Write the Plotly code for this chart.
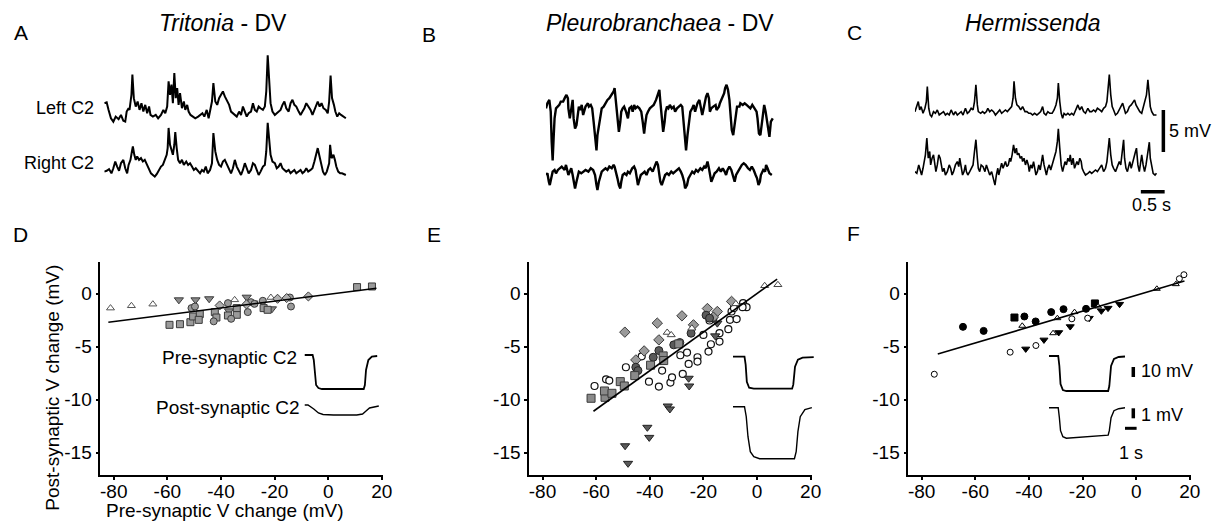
import plotly.graph_objects as go

W, H = 1222, 525
OFF = 8                      # page body margin of the written html
WF, HF = W - OFF, H - OFF    # figure size so that it fills the window
FONT = "Liberation Sans, Arial, sans-serif"

# ======================= DATA =======================
# Spontaneous activity traces: (time s, voltage mV relative to trace baseline)
a_left = [(0.00,1.8),(0.05,1.9),(0.09,1.0),(0.14,0.0),(0.19,-0.4),(0.24,0.2),(0.30,-0.1),(0.35,0.4),(0.40,-0.3),(0.44,-0.4),
          (0.47,0.8),(0.51,1.2),(0.53,1.0),(0.57,2.8),(0.59,5.2),(0.62,2.4),(0.66,1.4),(0.70,2.0),(0.74,1.0),(0.78,1.8),
          (0.82,0.8),(0.86,1.6),(0.90,0.6),(0.94,1.4),(0.97,0.4),(1.02,0.2),(1.08,0.4),(1.13,0.0),(1.19,0.4),(1.24,1.0),
          (1.28,0.6),(1.32,1.4),(1.35,4.4),(1.38,2.8),(1.41,4.0),(1.44,1.8),(1.47,5.4),(1.50,2.4),(1.53,3.6),(1.56,1.6),
          (1.59,3.0),(1.63,1.2),(1.67,2.0),(1.70,1.0),(1.74,1.6),(1.77,0.8),(1.81,0.4),(1.86,0.2),(1.91,0.0),(1.97,0.2),
          (2.01,0.4),(2.06,0.6),(2.10,0.2),(2.15,1.0),(2.19,0.0),(2.22,0.8),(2.26,2.0),(2.29,4.2),(2.33,2.0),(2.37,1.6),
          (2.41,2.4),(2.45,2.8),(2.49,3.2),(2.53,2.6),(2.58,2.0),(2.62,1.6),(2.66,0.8),(2.70,0.6),(2.74,0.4),(2.78,0.2),
          (2.83,0.8),(2.87,0.4),(2.91,1.4),(2.95,0.8),(2.99,0.2),(3.03,0.6),(3.08,0.8),(3.12,1.8),(3.16,1.0),(3.20,0.8),
          (3.24,1.4),(3.28,1.2),(3.33,1.0),(3.37,1.4),(3.40,3.2),(3.43,7.5),(3.46,4.8),(3.49,1.8),(3.53,0.8),(3.58,0.4),
          (3.62,0.6),(3.66,0.8),(3.70,1.0),(3.74,1.6),(3.78,2.0),(3.82,1.2),(3.87,0.8),(3.91,1.8),(3.95,2.2),(3.99,1.6),
          (4.03,1.4),(4.08,0.8),(4.12,0.4),(4.16,0.8),(4.20,1.2),(4.24,1.8),(4.28,1.4),(4.33,1.0),(4.37,0.4),(4.41,1.0),
          (4.45,1.6),(4.48,2.0),(4.52,1.4),(4.56,1.8),(4.60,1.2),(4.65,1.0),(4.69,0.6),(4.72,2.0),(4.75,5.1),(4.78,2.4),
          (4.82,1.6),(4.85,0.8),(4.89,0.2),(4.93,0.6),(4.97,0.4),(5.01,0.2),(5.07,0.0)]
a_right = [(0.00,0.2),(0.05,0.3),(0.10,0.5),(0.15,0.0),(0.19,0.6),(0.23,1.4),(0.27,0.8),(0.31,0.3),(0.35,1.2),(0.40,1.6),
           (0.44,0.6),(0.48,0.0),(0.51,1.0),(0.55,1.6),(0.58,2.6),(0.60,3.2),(0.63,2.2),(0.66,1.6),(0.69,2.0),(0.73,1.6),
           (0.77,1.8),(0.81,1.4),(0.85,1.6),(0.90,1.0),(0.94,0.4),(0.98,0.0),(1.02,-0.2),(1.06,-0.4),(1.10,-0.1),(1.15,0.4),
           (1.19,0.8),(1.23,1.0),(1.27,1.6),(1.31,2.2),(1.33,3.0),(1.35,5.4),(1.38,3.4),(1.41,2.6),(1.44,2.2),(1.47,3.4),
           (1.49,4.9),(1.52,3.0),(1.55,1.6),(1.59,1.2),(1.63,1.6),(1.67,1.0),(1.72,1.4),(1.76,1.0),(1.80,1.2),(1.84,0.8),
           (1.88,0.4),(1.92,0.6),(1.97,0.2),(2.01,0.0),(2.05,0.4),(2.09,0.2),(2.13,0.8),(2.17,0.0),(2.22,0.4),(2.26,1.2),
           (2.29,4.8),(2.33,2.6),(2.37,1.6),(2.41,1.0),(2.45,0.8),(2.49,1.4),(2.53,1.6),(2.58,1.0),(2.62,0.6),(2.66,0.0),
           (2.70,0.6),(2.74,1.6),(2.78,0.8),(2.83,0.2),(2.87,-0.2),(2.91,0.4),(2.95,1.2),(2.99,0.6),(3.03,0.0),(3.08,0.4),
           (3.12,1.2),(3.16,1.0),(3.20,0.4),(3.24,-0.2),(3.28,0.2),(3.33,0.8),(3.37,1.0),(3.40,2.6),(3.43,6.0),(3.46,3.8),
           (3.49,2.2),(3.53,1.4),(3.58,1.2),(3.62,0.6),(3.66,0.8),(3.70,1.2),(3.74,0.6),(3.78,0.4),(3.82,0.2),(3.87,0.4),
           (3.91,0.0),(3.95,0.2),(3.99,0.4),(4.03,0.0),(4.08,0.2),(4.12,0.4),(4.16,0.0),(4.20,0.2),(4.24,0.6),(4.28,0.2),
           (4.33,0.4),(4.37,0.6),(4.41,1.4),(4.45,2.2),(4.48,3.0),(4.51,2.2),(4.55,1.0),(4.59,0.2),(4.63,-0.2),(4.67,0.2),
           (4.72,1.2),(4.74,3.4),(4.77,1.8),(4.81,2.2),(4.84,1.6),(4.87,0.8),(4.91,0.2),(4.95,0.0),(4.99,0.0),(5.07,-0.2)]
b_top = [(0.00,0.0),(0.03,0.6),(0.07,1.0),(0.10,-0.4),(0.12,-4.0),(0.14,-6.2),(0.16,-3.6),(0.18,-1.2),(0.21,0.0),(0.24,0.2),
         (0.28,0.4),(0.31,0.8),(0.36,0.8),(0.40,1.3),(0.43,1.6),(0.46,1.2),(0.47,0.0),(0.50,-1.2),(0.53,0.0),(0.56,1.0),
         (0.58,-1.2),(0.61,-2.4),(0.64,-2.0),(0.67,-0.4),(0.69,0.2),(0.72,-0.2),(0.75,0.4),(0.78,-0.8),(0.81,0.0),(0.83,0.2),
         (0.88,0.6),(0.90,0.2),(0.94,0.4),(0.97,0.0),(1.00,-1.6),(1.03,-3.6),(1.06,-5.0),(1.08,-3.2),(1.11,-2.0),(1.14,-0.8),
         (1.17,0.0),(1.21,0.2),(1.25,0.6),(1.29,1.0),(1.33,1.2),(1.38,1.6),(1.42,2.0),(1.44,2.4),(1.47,0.8),(1.50,-1.2),
         (1.53,-2.8),(1.56,-1.6),(1.58,-0.4),(1.61,0.0),(1.64,0.2),(1.68,-0.4),(1.72,-1.2),(1.75,0.0),(1.79,0.2),(1.82,-0.4),
         (1.85,0.4),(1.88,0.0),(1.92,0.2),(1.96,0.0),(2.00,-0.4),(2.03,-1.6),(2.06,-3.0),(2.08,-2.0),(2.11,-0.8),(2.14,-0.4),
         (2.18,0.0),(2.22,0.2),(2.26,0.4),(2.31,1.0),(2.35,1.6),(2.38,2.2),(2.40,0.8),(2.43,-1.6),(2.46,-2.8),(2.49,-1.6),
         (2.51,-0.4),(2.54,0.2),(2.57,0.0),(2.60,0.4),(2.64,0.0),(2.68,0.2),(2.71,-0.4),(2.75,0.0),(2.79,0.2),(2.83,0.4),
         (2.86,0.2),(2.89,-1.6),(2.92,-4.0),(2.94,-5.0),(2.97,-3.2),(3.00,-1.6),(3.03,-0.4),(3.07,0.0),(3.10,0.4),(3.13,-0.4),
         (3.15,0.0),(3.18,0.6),(3.22,1.0),(3.25,0.0),(3.28,-0.8),(3.31,0.0),(3.33,0.8),(3.36,1.4),(3.39,1.8),(3.42,1.2),
         (3.44,-0.4),(3.47,0.0),(3.51,0.2),(3.56,0.4),(3.58,-0.2),(3.63,0.2),(3.65,0.6),(3.69,1.2),(3.74,1.8),(3.76,2.4),
         (3.79,2.8),(3.82,2.2),(3.85,1.0),(3.88,-1.2),(3.90,-2.6),(3.93,-3.2),(3.96,-2.0),(3.99,-0.4),(4.01,0.2),(4.06,0.2),
         (4.08,0.6),(4.13,0.4),(4.17,0.6),(4.21,0.4),(4.25,0.2),(4.29,0.0),(4.33,0.4),(4.38,0.0),(4.42,-0.4),(4.44,-1.2),
         (4.47,-3.0),(4.50,-3.2),(4.53,-1.6),(4.56,-0.4),(4.58,0.4),(4.61,-0.4),(4.65,-2.0),(4.67,-3.2),(4.69,-3.4),(4.72,-1.6),
         (4.76,-1.2)]
b_bottom = [(0.00,0.0),(0.03,0.2),(0.06,-0.8),(0.08,-1.2),(0.11,-0.4),(0.14,0.4),(0.18,0.6),(0.21,0.2),(0.25,0.6),(0.29,0.8),
            (0.33,1.0),(0.36,0.8),(0.39,0.6),(0.42,1.2),(0.44,0.6),(0.47,0.0),(0.50,0.4),(0.53,0.8),(0.56,0.0),(0.58,-0.8),
            (0.61,-1.6),(0.64,-0.8),(0.67,0.0),(0.69,0.4),(0.74,0.2),(0.78,0.4),(0.83,0.6),(0.89,0.4),(0.94,0.8),(0.99,0.6),
            (1.03,0.0),(1.06,-1.2),(1.08,-1.8),(1.11,-0.8),(1.14,0.0),(1.17,0.4),(1.21,0.6),(1.25,0.8),(1.29,0.6),(1.33,1.0),
            (1.38,0.8),(1.42,1.2),(1.44,1.0),(1.47,0.4),(1.50,-0.4),(1.53,-1.2),(1.56,-1.6),(1.58,-0.8),(1.61,0.0),(1.65,0.2),
            (1.69,0.0),(1.72,0.4),(1.76,0.2),(1.81,0.8),(1.85,1.0),(1.88,0.6),(1.90,-0.4),(1.93,-1.2),(1.96,-0.6),(1.99,0.0),
            (2.03,0.2),(2.07,0.4),(2.11,0.0),(2.15,0.6),(2.19,0.8),(2.24,0.4),(2.28,1.0),(2.32,1.6),(2.35,1.2),(2.38,0.0),
            (2.40,-0.8),(2.43,-1.2),(2.46,-0.6),(2.50,0.0),(2.54,0.2),(2.58,0.0),(2.63,0.4),(2.67,0.2),(2.71,0.4),(2.75,0.6),
            (2.79,0.8),(2.83,0.4),(2.86,0.0),(2.90,-0.8),(2.92,-1.6),(2.96,-1.2),(2.99,-0.4),(3.03,0.0),(3.07,0.4),(3.11,0.2),
            (3.15,0.6),(3.19,0.4),(3.24,0.8),(3.28,0.6),(3.32,1.0),(3.35,0.8),(3.39,1.6),(3.42,0.8),(3.44,0.0),(3.47,-0.8),
            (3.50,-0.4),(3.54,0.2),(3.58,0.4),(3.63,0.8),(3.67,0.4),(3.71,0.8),(3.75,0.4),(3.78,0.0),(3.81,0.6),(3.85,1.0),
            (3.89,0.6),(3.93,-0.4),(3.96,-0.8),(3.99,0.0),(4.03,0.4),(4.07,0.8),(4.11,1.2),(4.15,1.4),(4.19,1.2),(4.24,0.8),
            (4.28,0.6),(4.32,1.0),(4.36,0.6),(4.40,0.0),(4.43,-0.4),(4.46,-1.2),(4.49,-0.8),(4.51,0.0),(4.56,0.6),(4.60,0.4),
            (4.62,1.2),(4.65,0.8),(4.69,0.2),(4.74,0.0)]
c_top = [(0.00,0.4),(0.04,1.0),(0.07,1.6),(0.10,0.6),(0.13,1.0),(0.17,0.2),(0.21,0.8),(0.24,1.6),(0.26,3.4),(0.29,0.8),
         (0.32,0.0),(0.35,-0.2),(0.39,0.4),(0.43,0.2),(0.47,0.6),(0.51,0.0),(0.56,0.2),(0.60,0.4),(0.64,0.0),(0.68,0.2),
         (0.72,0.0),(0.76,0.6),(0.81,0.0),(0.85,0.4),(0.89,0.0),(0.93,0.2),(0.97,0.4),(1.01,0.0),(1.06,0.8),(1.10,0.2),
         (1.14,0.4),(1.18,0.8),(1.22,0.6),(1.25,1.6),(1.28,3.6),(1.31,1.2),(1.33,0.4),(1.38,0.2),(1.42,0.4),(1.46,0.2),
         (1.50,0.4),(1.53,0.8),(1.57,0.4),(1.61,0.6),(1.65,0.4),(1.69,0.0),(1.74,0.4),(1.78,0.6),(1.82,0.2),(1.86,0.4),
         (1.90,0.6),(1.94,0.4),(1.99,0.8),(2.03,1.0),(2.06,2.0),(2.08,4.0),(2.11,2.0),(2.14,1.2),(2.18,1.0),(2.22,0.6),
         (2.26,1.0),(2.31,0.4),(2.35,0.4),(2.39,0.2),(2.43,0.2),(2.47,0.0),(2.51,0.2),(2.56,0.0),(2.60,0.2),(2.64,0.4),
         (2.68,1.0),(2.71,0.2),(2.75,0.0),(2.79,0.4),(2.83,0.2),(2.88,0.2),(2.92,0.6),(2.96,1.2),(2.99,2.0),(3.01,3.8),
         (3.04,1.6),(3.07,0.2),(3.10,-0.4),(3.13,0.2),(3.17,0.0),(3.21,0.2),(3.25,0.0),(3.29,0.2),(3.33,0.0),(3.38,0.6),
         (3.42,1.2),(3.46,0.6),(3.50,1.0),(3.54,0.4),(3.58,0.2),(3.63,0.8),(3.67,0.4),(3.71,0.4),(3.75,0.6),(3.79,0.4),
         (3.83,0.8),(3.88,0.6),(3.92,0.4),(3.96,0.8),(4.00,1.0),(4.03,1.6),(4.06,3.2),(4.08,4.8),(4.11,2.4),(4.14,1.0),
         (4.17,0.6),(4.21,0.0),(4.25,0.2),(4.29,0.6),(4.33,1.0),(4.36,1.4),(4.39,0.8),(4.42,0.2),(4.46,0.4),(4.50,1.0),
         (4.54,1.2),(4.58,1.6),(4.61,1.8),(4.64,1.2),(4.68,0.8),(4.72,0.4),(4.76,0.2),(4.79,0.8),(4.83,1.6),(4.86,2.4),
         (4.89,4.2),(4.92,2.0),(4.94,1.0),(4.97,0.4),(5.01,0.0),(5.07,0.0)]
c_bottom = [(0.00,0.4),(0.04,0.2),(0.08,1.2),(0.11,0.6),(0.14,0.0),(0.17,0.8),(0.19,1.6),(0.22,2.4),(0.25,4.4),(0.28,2.0),
            (0.31,2.8),(0.33,1.2),(0.36,2.0),(0.39,2.4),(0.42,1.2),(0.44,0.4),(0.47,1.2),(0.50,2.4),(0.53,2.0),(0.56,1.2),
            (0.58,0.4),(0.61,0.8),(0.64,0.0),(0.68,0.4),(0.72,1.2),(0.75,0.8),(0.78,0.0),(0.81,0.4),(0.85,1.2),(0.89,1.6),
            (0.92,1.0),(0.94,2.0),(0.97,0.8),(1.00,0.0),(1.03,0.4),(1.06,1.2),(1.08,0.4),(1.11,0.0),(1.15,0.4),(1.19,0.8),
            (1.22,1.2),(1.25,2.8),(1.28,4.2),(1.31,2.0),(1.33,0.8),(1.36,0.4),(1.39,1.2),(1.43,1.0),(1.47,0.4),(1.50,1.2),
            (1.53,0.6),(1.57,0.0),(1.61,0.4),(1.65,-0.6),(1.68,-1.2),(1.71,0.0),(1.74,0.8),(1.76,0.0),(1.79,0.8),(1.82,1.4),
            (1.85,0.8),(1.88,1.2),(1.90,1.6),(1.93,1.0),(1.96,1.2),(1.99,2.0),(2.01,1.6),(2.04,2.4),(2.07,3.6),(2.10,2.6),
            (2.13,3.2),(2.15,2.4),(2.18,2.6),(2.21,2.0),(2.24,2.2),(2.26,1.6),(2.29,2.0),(2.32,1.2),(2.35,1.8),(2.38,1.2),
            (2.40,0.4),(2.43,1.2),(2.46,0.8),(2.49,1.6),(2.51,0.8),(2.54,0.0),(2.57,0.4),(2.60,1.2),(2.63,0.6),(2.65,1.6),
            (2.68,2.4),(2.71,1.2),(2.74,0.4),(2.76,0.0),(2.79,0.8),(2.82,1.2),(2.85,0.6),(2.88,1.2),(2.90,1.6),(2.93,2.0),
            (2.96,2.8),(2.99,4.0),(3.01,5.5),(3.04,3.2),(3.07,1.2),(3.10,0.4),(3.13,1.2),(3.15,1.6),(3.18,1.2),(3.21,2.0),
            (3.24,1.6),(3.26,2.4),(3.29,1.2),(3.32,2.0),(3.35,0.8),(3.38,1.2),(3.40,1.6),(3.43,1.2),(3.46,2.0),(3.49,1.6),
            (3.51,0.8),(3.54,0.4),(3.58,0.0),(3.63,0.2),(3.67,0.4),(3.71,0.2),(3.75,0.4),(3.79,0.6),(3.83,0.4),(3.88,0.8),
            (3.92,1.2),(3.96,0.4),(4.00,0.8),(4.03,1.6),(4.06,3.2),(4.08,4.4),(4.11,2.4),(4.14,1.2),(4.17,0.8),(4.21,0.4),
            (4.25,1.0),(4.29,1.6),(4.32,1.2),(4.35,2.8),(4.38,4.2),(4.40,2.0),(4.43,0.8),(4.46,0.4),(4.49,1.2),(4.51,1.6),
            (4.54,0.8),(4.57,1.6),(4.60,2.0),(4.63,2.8),(4.65,3.2),(4.68,1.2),(4.71,0.4),(4.74,1.6),(4.76,2.4),(4.79,1.2),
            (4.82,0.4),(4.85,1.2),(4.88,2.4),(4.90,3.6),(4.92,3.9),(4.94,2.0),(4.97,0.8),(5.00,0.2),(5.04,0.0),(5.07,0.2)]

# Scatter data: (pre-synaptic V change mV, post-synaptic V change mV)
d_tri_up = [(-81.2,-1.35),(-73.4,-1.13),(-65.4,-0.98),(-34.9,-0.57),(-21.4,-0.35)]
d_tri_down = [(-55.7,-0.57),(-49.5,-0.57),(-44.4,-0.47),(-30.4,-0.32),(-37.0,-1.61),(-21.0,-1.42),(-27.9,-0.88)]
d_square = [(-59.2,-2.93),(-55.3,-2.87),(-51.4,-2.68),(-50.4,-2.14),(-47.9,-1.92),(-48.3,-2.46),(-42.3,-1.73),
            (-41.7,-2.24),(-37.4,-2.05),(-34.1,-1.98),(-34.1,-1.35),(-24.1,-1.35),(-22.6,-1.51),(10.75,0.63),(16.3,0.69)]
d_circle = [(-51.0,-1.35),(-49.7,-1.2),(-42.7,-2.6),(-37.4,-0.88),(-36.2,-2.36),(-28.8,-0.79),(-27.5,-0.95),
            (-24.4,-0.66),(-14.3,-0.35),(-13.9,-1.2),(-30.0,-1.73)]
d_diamond = [(-40.5,-1.1),(-18.9,-0.47),(-7.4,-0.25),(-15.5,-0.4),(-30.5,-1.0)]

e_tri_up = [(2.85,0.76),(7.78,0.85),(-33.5,-3.65),(-32.0,-3.88),(-24.3,-3.25),(-7.9,-0.95)]
e_diamond = [(-49.3,-3.62),(-37.2,-2.77),(-28.0,-2.08),(-18.5,-1.39),(-14.8,-1.67),(-9.5,-0.72),(-42.1,-5.39),
             (-45.2,-6.24),(-36.6,-4.35),(-23.7,-2.93),(-16.3,-2.2)]
e_dark_circle = [(-45.2,-6.93),(-44.4,-7.25),(-36.6,-5.36),(-38.7,-5.99),(-31.05,-4.82),(-28.8,-4.6),(-19.0,-2.02),
                 (-17.7,-2.3),(-24.6,-3.72)]
e_square = [(-61.9,-9.86),(-56.7,-9.77),(-56.9,-9.17),(-54.1,-9.39),(-51.0,-8.29),(-49.5,-8.7),(-45.6,-7.72),
            (-39.7,-6.74),(-35.0,-5.86),(-34.8,-6.3),(-29.2,-4.73)]
e_open_circle = [(-60.6,-8.70),(-56.3,-8.07),(-55.1,-8.19),(-48.9,-6.93),(-43.0,-5.9),(-35.4,-7.25),(-40.3,-8.29),
                 (-36.6,-8.76),(-32.3,-8.38),(-31.7,-7.88),(-27.7,-7.56),(-25.5,-6.62),(-22.2,-5.99),(-22.2,-6.40),
                 (-28.6,-5.80),(-26.1,-5.55),(-20.0,-3.88),(-18.1,-5.45),(-17.2,-4.76),(-14.0,-4.51),(-14.0,-3.72),
                 (-10.7,-3.34),(-10.1,-2.46),(-7.6,-2.39),(-9.5,-1.67),(-8.6,-1.35),(-5.2,-0.88),(-3.9,-1.26),
                 (-5.4,-1.26),(-17.7,-2.52),(-16.3,-2.30)]
e_tri_down = [(-25.5,-7.97),(-25.3,-8.70),(-33.3,-10.59),(-32.5,-10.87),(-40.9,-12.6),(-40.2,-13.55),(-49.2,-14.34),
              (-48.1,-16.0),(-15.6,-3.97),(-14.8,-2.77)]

f_circle = [(-64.6,-3.12),(-56.9,-3.50),(-41.7,-2.14),(-37.5,-2.61),(-31.7,-1.73),(-27.1,-1.45),(-18.7,-1.42)]
f_square = [(-45.4,-2.24),(-15.4,-0.91)]
f_tri_up = [(-42.5,-3.02),(-29.4,-2.30),(-23.0,-1.73),(-14.2,-1.2),(7.7,0.47),(14.8,0.91),(-31.0,-3.72)]
f_tri_down = [(-41.2,-5.2),(-34.4,-4.35),(-28.9,-3.65),(-24.6,-3.09),(-17.5,-2.3),(-13.0,-1.61),(-10.5,-1.35),(-6.2,-0.98)]
f_open_circle = [(-75.3,-7.59),(-47.0,-5.51),(-37.4,-4.88),(-24.0,-2.36),(-18.1,-2.30),(16.1,1.42),(17.8,1.80)]

# Linear fits: slope, intercept, x start, x end
fit_D = (0.032, -0.06, -82, 18)
fit_E = (0.182, 0.02, -61, 7.5)
fit_F = (0.075, -0.14, -74, 18)

# Inset step responses: (time s, mV)
d_pre = [(0,0),(0.7,0),(0.8,-5),(0.9,-20),(1.0,-30),(1.2,-33),(1.5,-34),(5.1,-34),(5.2,-30),(5.3,-15),(5.5,-5),(5.8,-1.5),(6.26,-1)]
d_post = [(0,0),(0.3,0),(0.8,-0.4),(1.2,-0.8),(1.6,-0.95),(2.5,-1.0),(4.5,-1.0),(5.0,-0.9),(5.3,-0.6),(5.6,-0.3),(6.4,-0.1)]
e_pre = [(0,0),(1.0,0),(1.1,-8),(1.2,-25),(1.4,-31),(1.8,-32),(5.1,-32),(5.2,-28),(5.35,-10),(5.6,-3),(6.0,-1),(6.96,-0.5)]
e_post = [(0,0),(1.0,0),(1.15,-1.0),(1.3,-3),(1.5,-4.5),(1.8,-5.0),(2.3,-5.2),(5.3,-5.2),(5.45,-4.5),(5.6,-2.5),(5.8,-1.0),(6.2,-0.3),(6.8,-0.1)]
f_pre = [(0,0),(0.8,0),(0.9,-10),(1.0,-28),(1.2,-34),(1.5,-35),(5.1,-35),(5.2,-30),(5.35,-10),(5.6,-3),(6.0,-1),(6.55,-0.5)]
f_post = [(0,0),(0.8,0),(0.9,-1),(1.0,-2.3),(1.2,-2.9),(1.5,-3.05),(5.1,-2.75),(5.2,-2.3),(5.35,-1.0),(5.6,-0.3),(6.0,-0.1),(6.55,0)]

x_ticks = [-80, -60, -40, -20, 0, 20]
x_tick_labels = ["-80", "-60", "-40", "-20", "0", "20"]
y_ticks = [0, -5, -10, -15]
y_tick_labels = ["0", "-5", "-10", "-15"]

# ======================= LAYOUT HELPERS =======================
def X(px):
    return (px - OFF) / WF

def Y(py):
    return 1 - (py - OFF) / HF

def unzip(pairs):
    return [p[0] for p in pairs], [p[1] for p in pairs]

layout = dict(width=WF, height=HF, margin=dict(l=0, r=0, t=0, b=0, pad=0),
              paper_bgcolor="white", plot_bgcolor="rgba(0,0,0,0)", showlegend=False,
              font=dict(family=FONT, size=19, color="black"))

def add_axes(n, xpx, ypx, xr, yr, visible=False):
    xk = "xaxis" if n == 1 else f"xaxis{n}"
    yk = "yaxis" if n == 1 else f"yaxis{n}"
    xa = dict(domain=[X(xpx[0]), X(xpx[1])], range=xr, anchor="y" if n == 1 else f"y{n}",
              visible=visible, fixedrange=True, showgrid=False, zeroline=False)
    ya = dict(domain=[Y(ypx[1]), Y(ypx[0])], range=yr, anchor="x" if n == 1 else f"x{n}",
              visible=visible, fixedrange=True, showgrid=False, zeroline=False)
    if visible:
        common = dict(showline=True, linecolor="black", linewidth=1.5, ticks="outside",
                      ticklen=3, tickwidth=1.5, tickcolor="black", tickmode="array",
                      tickfont=dict(family=FONT, size=19, color="black"))
        xa.update(common, tickvals=x_ticks, ticktext=x_tick_labels, ticklabelstandoff=-5)
        ya.update(common, tickvals=y_ticks, ticktext=y_tick_labels)
    layout[xk] = xa
    layout[yk] = ya

def ref(n):
    return ("x", "y") if n == 1 else (f"x{n}", f"y{n}")

fig = go.Figure()

def line(n, xs, ys, width=2.0, color="black"):
    xr, yr = ref(n)
    fig.add_trace(go.Scatter(x=xs, y=ys, mode="lines", xaxis=xr, yaxis=yr,
                             line=dict(color=color, width=width), hoverinfo="skip"))

def pts(n, pairs, symbol, size, fill, edge, lw=1.0):
    xr, yr = ref(n)
    xs, ys = unzip(pairs)
    fig.add_trace(go.Scatter(x=xs, y=ys, mode="markers", xaxis=xr, yaxis=yr, hoverinfo="skip",
                             marker=dict(symbol=symbol, size=size, color=fill,
                                         line=dict(color=edge, width=lw))))

# ---- scatter panels D, E, F ----
SC_Y = (262, 475)
SC_XR = [-85, 20.5]
SC_YR = [-17.1, 3.0]
add_axes(1, (101, 386), SC_Y, SC_XR, SC_YR, visible=True)
add_axes(2, (533, 818), SC_Y, SC_XR, SC_YR, visible=True)
add_axes(3, (915, 1200), SC_Y, SC_XR, SC_YR, visible=True)

# ---- trace panels A, B, C (48 px per s, 8.4 px per mV) ----
TR_Y = (40, 215)
TR_YR = [-(TR_Y[1] - TR_Y[0]) / 8.4, 0]
add_axes(4, (105, 355), TR_Y, [0, 250 / 48], TR_YR)
add_axes(5, (550, 800), TR_Y, [0, 250 / 48], TR_YR)
add_axes(6, (921.7, 1221.7), TR_Y, [0, 300 / 48], TR_YR)

def base(py):
    return -(py - TR_Y[0]) / 8.4

for n, pairs, by, w in [(4, a_left, 118.3, 2.0), (4, a_right, 173.3, 2.0),
                        (5, b_top, 108.3, 2.4), (5, b_bottom, 175.0, 2.4),
                        (6, c_top, 115.0, 1.6), (6, c_bottom, 175.0, 1.6)]:
    ts, vs = unzip(pairs)
    line(n, ts, [v + base(by) for v in vs], width=w)

# scale bars for C (5 mV, 0.5 s)
sb_x = (1172 - 921.7) / 48
sb_top = base(110)
line(6, [sb_x, sb_x], [sb_top, sb_top - 5], width=3.5)
tb_x0 = (1149.3 - 921.7) / 48
line(6, [tb_x0, tb_x0 + 0.5], [base(191.7), base(191.7)], width=3.5)

# ---- insets (11.7 px per s; pre 1 px/mV, post 10 px/mV) ----
def inset(n_pre, n_post, x0, x1, pre_base, post_base, pre_pairs, post_pairs, post_ypx=(398, 465)):
    span = (x1 - x0) / 11.7
    add_axes(n_pre, (x0, x1), (345, 395), [0, span], [-(395 - pre_base), pre_base - 345])
    add_axes(n_post, (x0, x1), post_ypx, [0, span],
             [-(post_ypx[1] - post_base) / 10, (post_base - post_ypx[0]) / 10])
    ts, vs = unzip(pre_pairs)
    line(n_pre, ts, vs, width=1.8)
    ts, vs = unzip(post_pairs)
    line(n_post, ts, vs, width=1.4)

inset(7, 8, 306.7, 386.7, 355, 405, d_pre, d_post)
inset(9, 10, 738.3, 821, 356.7, 406.7, e_pre, e_post)
inset(11, 12, 1056.7, 1210, 356, 407.7, f_pre, f_post)

# F inset scale bars (10 mV, 1 mV, 1 s)
fb_t = (1141.7 - 1056.7) / 11.7
line(11, [fb_t, fb_t], [-11, -21], width=3.5)
line(12, [fb_t, fb_t], [-0.06, -1.06], width=3.5)
line(12, [6.55, 7.55], [-2.06, -2.06], width=3.0)

# ---- scatter points ----
GRAY, DGRAY, EDGE = "#9a9a9a", "#5a5a5a", "#3a3a3a"
pts(1, d_tri_up, "triangle-up", 7, "white", "#555555")
pts(1, d_tri_down, "triangle-down", 8, "#8a8a8a", EDGE)
pts(1, d_square, "square", 7, GRAY, EDGE)
pts(1, d_circle, "circle", 7, GRAY, EDGE)
pts(1, d_diamond, "diamond", 7, "#b0b0b0", EDGE)

pts(2, e_open_circle, "circle", 7, "white", "#111111", 1.2)
pts(2, e_diamond, "diamond", 8, GRAY, EDGE)
pts(2, e_dark_circle, "circle", 8, DGRAY, "#222222")
pts(2, e_square, "square", 8, "#8a8a8a", EDGE)
pts(2, e_tri_up, "triangle-up", 7, "white", "#444444")
pts(2, e_tri_down, "triangle-down", 8, DGRAY, "#222222")

pts(3, f_circle, "circle", 7, "black", "black")
pts(3, f_square, "square", 7, "black", "black")
pts(3, f_tri_up, "triangle-up", 6, "white", "black")
pts(3, f_tri_down, "triangle-down", 7, "black", "black")
pts(3, f_open_circle, "circle", 6, "white", "black")

# ---- regression lines ----
for n, (s, b, x0, x1) in [(1, fit_D), (2, fit_E), (3, fit_F)]:
    line(n, [x0, x1], [s * x0 + b, s * x1 + b], width=1.6)

# ---- text ----
ann = []
def text(px, py, t, size=19, xanchor="center", angle=0):
    ann.append(dict(x=X(px), y=Y(py), xref="paper", yref="paper", text=t, showarrow=False,
                    xanchor=xanchor, yanchor="middle", textangle=angle,
                    font=dict(family=FONT, size=size, color="black")))

for letter, px, py in [("A", 21, 33), ("B", 432, 34), ("C", 861, 33),
                       ("D", 21, 234), ("E", 437, 234), ("F", 860, 233)]:
    text(px, py, letter, size=21)
text(225, 23, "<i>Tritonia</i> - DV", size=23)
text(665, 23, "<i>Pleurobranchaea</i> - DV", size=23)
text(1041, 23, "<i>Hermissenda</i>", size=23)
text(97, 108, "Left C2", size=18, xanchor="right")
text(97, 163, "Right C2", size=18, xanchor="right")
text(1176, 131, "5 mV", size=18, xanchor="left")
text(1160, 205, "0.5 s", size=18)
text(301, 357, "Pre-synaptic C2", size=19, xanchor="right")
text(304, 407, "Post-synaptic C2", size=19, xanchor="right")
text(1147, 371, "10 mV", size=18, xanchor="left")
text(1147, 415, "1 mV", size=18, xanchor="left")
text(1139, 453, "1 s", size=18)
text(227, 510, "Pre-synaptic V change (mV)", size=19)
text(52, 388, "Post-synaptic V change (mV)", size=19, angle=-90)
layout["annotations"] = ann

fig.update_layout(**layout)
fig.write_html("out.html", config={"displayModeBar": False})
